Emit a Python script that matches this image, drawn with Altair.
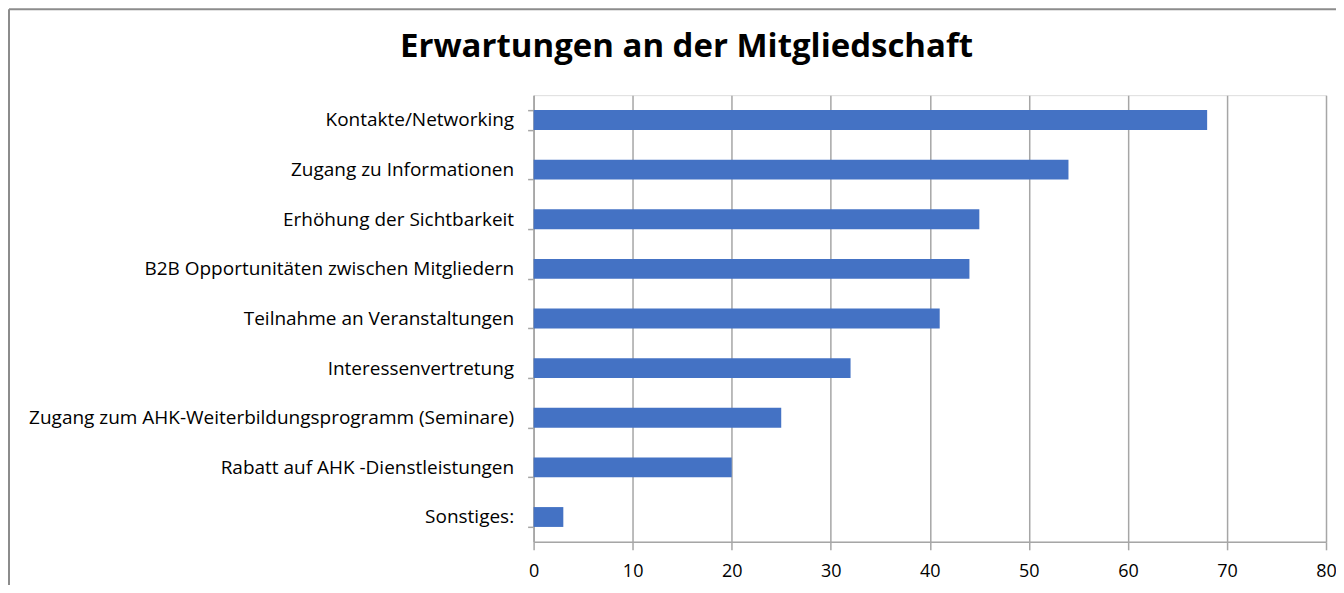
import altair as alt
import pandas as pd

title_text = "Erwartungen an der Mitgliedschaft"
categories = [
    "Kontakte/Networking",
    "Zugang zu Informationen",
    "Erhöhung der Sichtbarkeit",
    "B2B Opportunitäten zwischen Mitgliedern",
    "Teilnahme an Veranstaltungen",
    "Interessenvertretung",
    "Zugang zum AHK-Weiterbildungsprogramm (Seminare)",
    "Rabatt auf AHK -Dienstleistungen",
    "Sonstiges:",
]
values = [68, 54, 45, 44, 41, 32, 25, 20, 3]
x_ticks = [0, 10, 20, 30, 40, 50, 60, 70, 80]

df = pd.DataFrame({"Kategorie": categories, "Wert": values})

FONT = "Open Sans"
GRID = "#a6a6a6"
FRAME = "#8c8c8c"

bars = alt.Chart(df).mark_bar(color="#4472C4").encode(
    y=alt.Y(
        "Kategorie:N",
        sort=categories,
        title=None,
        scale=alt.Scale(paddingInner=0.6, paddingOuter=0.3),
        axis=alt.Axis(
            labelFont=FONT,
            labelFontSize=19,
            labelColor="#000000",
            labelPadding=14,
            labelLimit=700,
            tickBand="extent",
            tickSize=6,
            tickColor=GRID,
            domainColor=GRID,
            domainWidth=1.5,
            tickWidth=1.5,
            grid=False,
        ),
    ),
    x=alt.X(
        "Wert:Q",
        title=None,
        scale=alt.Scale(domain=[0, 80], nice=False),
        axis=alt.Axis(
            values=x_ticks,
            labelFont=FONT,
            labelFontSize=18,
            labelColor="#000000",
            labelPadding=13,
            labelFlush=False,
            tickSize=8,
            tickColor=GRID,
            tickWidth=1.5,
            domainColor=GRID,
            domainWidth=1.5,
            grid=True,
            gridColor=GRID,
            gridWidth=1.5,
        ),
    ),
)

one = alt.Data(values=[{}])
frame_left = alt.Chart(one).mark_rule(color=FRAME, strokeWidth=2).encode(
    x=alt.value(-525), x2=alt.value(-525), y=alt.value(-86), y2=alt.value(520)
)
frame_top = alt.Chart(one).mark_rule(color=FRAME, strokeWidth=2).encode(
    x=alt.value(-525), x2=alt.value(820), y=alt.value(-86), y2=alt.value(-86)
)
title = alt.Chart(one).mark_text(
    font=FONT, fontSize=33, fontWeight="bold", color="#000000",
    align="center", baseline="alphabetic"
).encode(
    text=alt.value(title_text), x=alt.value(153), y=alt.value(-38)
)

chart = alt.layer(frame_left, frame_top, title, bars).properties(
    width=793,
    height=447,
    autosize=alt.AutoSizeParams(type="none"),
    padding={"left": 526, "top": 87, "right": 10, "bottom": 43},
).configure_view(stroke=None).configure(background="white")

chart.save("out.html", embed_options={"renderer": "svg", "actions": False})
